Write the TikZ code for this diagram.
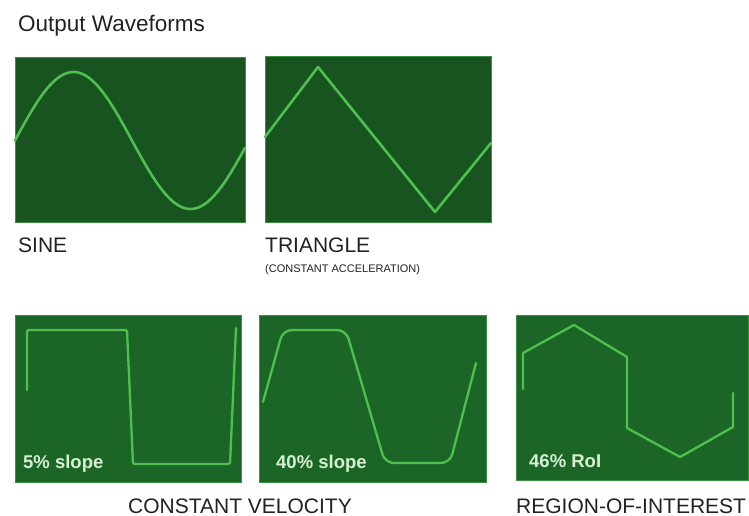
\documentclass[tikz,border=0pt]{standalone}
\usepackage{fontspec}
\setmainfont{Liberation Sans}
\usepackage{tikz}

\definecolor{scopedark}{HTML}{17541F}
\definecolor{scopemid}{HTML}{1B6527}
\definecolor{scopeedge}{HTML}{3A8F40}
\definecolor{trace}{HTML}{4FBF4F}
\definecolor{tagtext}{HTML}{D8F0D2}
\definecolor{ink}{HTML}{222222}

\begin{document}
\begin{tikzpicture}[x=1pt,y=-1pt]
        \tikzset{screen/.style={draw=scopeedge, line width=0.8pt, inner sep=0pt, anchor=north west},
        wave/.style={trace, line width=2.6pt, line join=round, line cap=round},
        caption/.style={ink, anchor=base west, inner sep=0pt, font=\fontsize{21}{24}\selectfont},
        tag/.style={tagtext, anchor=base west, inner sep=0pt, font=\bfseries\fontsize{18.5}{21}\selectfont}}
        \useasboundingbox[fill=white] (0,0) rectangle (749,516);
        \node[ink, anchor=base west, inner sep=0pt, font=\fontsize{22.5}{26}\selectfont] (title) at (18,32) {Output Waveforms};
        \node[screen, fill=scopedark, minimum width=230pt, minimum height=165pt] (sine) at (15,57) {};
        \node[screen, fill=scopedark, minimum width=226pt, minimum height=166pt] (tri) at (265,56) {};
        \node[screen, fill=scopemid, minimum width=226pt, minimum height=167pt] (cvfive) at (15,315) {};
        \node[screen, fill=scopemid, minimum width=227pt, minimum height=167pt] (cvforty) at (259,315) {};
        \node[screen, fill=scopemid, minimum width=232pt, minimum height=165pt] (roi) at (516,315) {};
        \draw[wave] plot[domain=0:230, samples=80] ({15+\x},{140.5-68.5*sin(1.53846*\x)});
        \draw[wave] (265,137) -- (318,67) -- (435,212) -- (491,143);
        \draw[wave, line width=2.3pt, rounded corners=2pt] (27,390) -- (27,330) -- (127,330) -- (133,464) -- (230,464) -- (236,328);
        \draw[wave, line width=2.3pt, rounded corners=9pt] (263,402) -- (283,330) -- (346,330) -- (385,463) -- (450,463) -- (476,363);
        \draw[wave, line width=2.3pt] (523,389) -- (523,353) -- (574,325) -- (627,357) -- (627,428) -- (680,457) -- (733,427) -- (733,393);
        \node[tag] (tagfive) at (23,468) {5\% slope};
        \node[tag] (tagforty) at (276,468) {40\% slope};
        \node[tag] (tagroi) at (529,467) {46\% RoI};
        \node[caption] (sinelbl) at ([xshift=3pt,yshift=-30pt]sine.south west) {SINE};
        \node[caption] (trilbl) at ([yshift=-30pt]tri.south west) {TRIANGLE};
        \node[caption, font=\fontsize{11}{13}\selectfont] (trisub) at ([yshift=-20pt]trilbl.base west) {(CONSTANT ACCELERATION)};
        \node[caption] (cvlbl) at (128,513) {CONSTANT VELOCITY};
        \node[caption] (roilbl) at (516,513) {REGION-OF-INTEREST};
    \end{tikzpicture}
\end{document}
